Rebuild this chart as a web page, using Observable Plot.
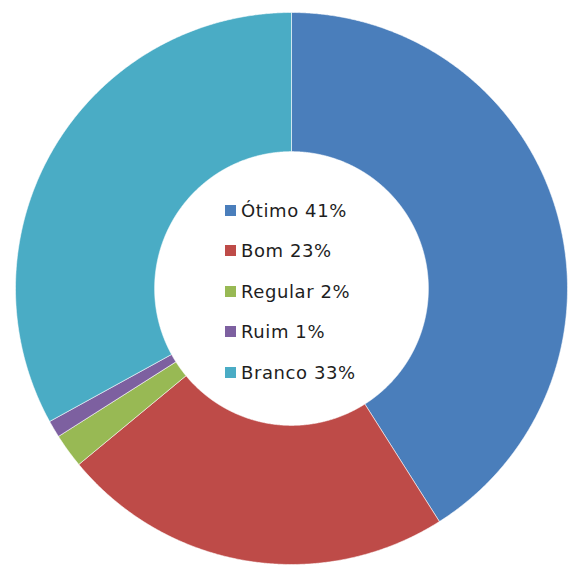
<!DOCTYPE html>
<html><head><meta charset="utf-8">
<script src="https://cdn.jsdelivr.net/npm/d3@7"></script>
<script src="https://cdn.jsdelivr.net/npm/@observablehq/plot@0.6"></script>
<style>
body{margin:0;background:#fff;}
#wrap{position:relative;width:572px;height:565px;}
#legend{position:absolute;left:225px;top:190px;font-family:"DejaVu Sans",sans-serif;font-size:18px;letter-spacing:0.6px;color:#1e1e1e;}
.item{display:flex;align-items:center;height:40.5px;white-space:nowrap;}
.sw{width:11px;height:11px;margin-right:5px;flex:none;}
</style></head><body><div id="wrap"><div id="legend"></div></div>
<script>
const categories = ["Ótimo", "Bom", "Regular", "Ruim", "Branco"];
const values = [41, 23, 2, 1, 33];
const colors = ["#4a7ebb", "#be4b48", "#98b954", "#7d60a0", "#4aacc5"];
const labels = ["Ótimo 41%", "Bom 23%", "Regular 2%", "Ruim 1%", "Branco 33%"];
const innerRatio = 0.496;

const arcs = d3.pie().sort(null).value((d, i) => values[i])(categories);
const pts = [];
for (const a of arcs) {
  const n = Math.max(4, Math.ceil((a.endAngle - a.startAngle) / 0.005));
  const ring = [];
  for (let k = 0; k <= n; k++) {
    const t = a.startAngle + (a.endAngle - a.startAngle) * k / n;
    ring.push({cat: a.data, x: Math.sin(t), y: Math.cos(t)});
  }
  for (let k = n; k >= 0; k--) {
    const t = a.startAngle + (a.endAngle - a.startAngle) * k / n;
    ring.push({cat: a.data, x: innerRatio * Math.sin(t), y: innerRatio * Math.cos(t)});
  }
  ring.push(ring[0]);
  pts.push(...ring);
}

const chart = Plot.plot({
  width: 572,
  height: 565,
  marginLeft: 15,
  marginRight: 5,
  marginTop: 12,
  marginBottom: 1,
  x: {domain: [-1, 1], axis: null},
  y: {domain: [-1, 1], axis: null},
  color: {domain: categories, range: colors},
  style: {background: "#fff"},
  marks: [
    Plot.line(pts, {x: "x", y: "y", z: "cat", fill: "cat", stroke: "#fff", strokeWidth: 0.8, strokeOpacity: 0.7, curve: "linear"})
  ]
});
const wrap = document.getElementById("wrap");
wrap.insertBefore(chart, wrap.firstChild);

const lg = document.getElementById("legend");
categories.forEach((c, i) => {
  const it = document.createElement("div");
  it.className = "item";
  const sw = document.createElement("span");
  sw.className = "sw";
  sw.style.background = colors[i];
  const tx = document.createElement("span");
  tx.textContent = labels[i];
  it.appendChild(sw); it.appendChild(tx);
  lg.appendChild(it);
});
</script></body></html>
